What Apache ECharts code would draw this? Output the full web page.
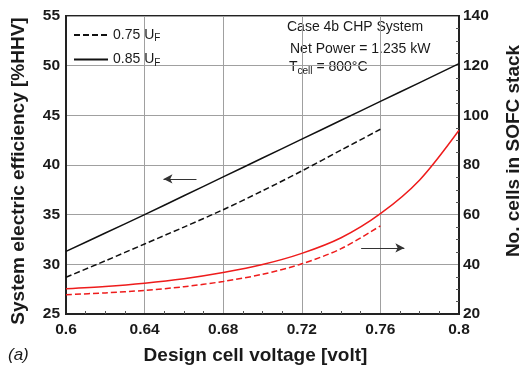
<!DOCTYPE html>
<html>
<head>
<meta charset="utf-8">
<script src="https://cdn.jsdelivr.net/npm/echarts@6/dist/echarts.min.js"></script>
<style>
  html, body { margin: 0; padding: 0; background: #fff; }
  #main { width: 521px; height: 368px; }
</style>
</head>
<body>
<div id="main"></div>
<script>
// design cell voltage [volt]
const voltage = [0.60, 0.62, 0.64, 0.66, 0.68, 0.70, 0.72, 0.74, 0.76, 0.78, 0.80];

// system electric efficiency [%HHV]
const effUF85 = [31.3, 33.15, 35.0, 36.9, 38.8, 40.7, 42.6, 44.5, 46.4, 48.3, 50.2];
const effUF75 = [28.7, 30.35, 32.05, 33.75, 35.5, 37.4, 39.4, 41.5, 43.6];

// number of cells in SOFC stack
const cellsUF85 = [30.2, 31.1, 32.4, 34.2, 36.7, 39.9, 44.4, 50.7, 60.4, 74.0, 94.0];
const cellsUF75 = [27.8, 28.5, 29.5, 31.0, 33.1, 36.0, 40.2, 46.3, 55.5];

const leftArrow = [[0.6664, 38.6], [0.6496, 38.6]];
const rightArrow = [[0.7502, 46.6], [0.7722, 46.6]];

const xTicks = { min: 0.6, max: 0.8, interval: 0.04 };
const effTicks = { min: 25, max: 55, interval: 5 };
const cellTicks = { min: 20, max: 140, interval: 20 };

function pairs(ys) {
  return ys.map((y, i) => [voltage[i], y]);
}

var chartDom = document.getElementById('main');
var myChart = echarts.init(chartDom);
var option;

const FONT = 'Liberation Sans, Arial, sans-serif';
const black = '#111';
const red = '#ee1c1c';
const gridColor = '#a0a0a0';

const tickLabel = { color: '#1a1a1a', fontSize: 15.5, fontWeight: 'bold', fontFamily: FONT };
const titleStyle = { color: '#1a1a1a', fontSize: 19, fontWeight: 'bold', fontFamily: FONT };

function arrowLine(coords) {
  return {
    silent: true,
    symbol: ['none', 'arrow'],
    symbolSize: [7, 9],
    label: { show: false },
    lineStyle: { color: '#333', width: 1, type: 'solid' },
    data: [[{ coord: coords[0] }, { coord: coords[1] }]]
  };
}

option = {
  animation: false,
  grid: {
    left: 66, right: 62, top: 16, bottom: 54,
    outerBoundsMode: 'none',
    show: true, borderColor: '#222', borderWidth: 2
  },
  legend: {
    data: ['0.75', '0.85'],
    orient: 'vertical',
    left: 68, top: 23,
    itemWidth: 34, itemHeight: 12, itemGap: 9,
    itemStyle: { color: 'transparent', borderWidth: 0 },
    textStyle: {
      color: '#1a1a1a', fontFamily: FONT, fontSize: 14,
      rich: {
        t: { fontSize: 14, fontFamily: FONT, color: '#1a1a1a' },
        s: { fontSize: 10, fontFamily: FONT, color: '#1a1a1a', padding: [7, 0, 0, 0] }
      }
    },
    formatter: n => '{t|' + n + ' U}{s|F}'
  },
  xAxis: {
    type: 'value',
    min: xTicks.min, max: xTicks.max, interval: xTicks.interval,
    name: 'Design cell voltage [volt]',
    nameLocation: 'middle', nameGap: 32,
    nameTextStyle: Object.assign({ padding: [0, 14, 0, 0] }, titleStyle),
    axisLine: { lineStyle: { color: '#222', width: 2 } },
    axisTick: { show: false },
    minorTick: { show: true, splitNumber: 4, length: -3, lineStyle: { color: '#555' } },
    axisLabel: Object.assign({ margin: 8, formatter: v => String(+v.toFixed(2)) }, tickLabel),
    splitLine: { show: true, lineStyle: { color: gridColor, width: 1 } }
  },
  yAxis: [
    {
      type: 'value',
      min: effTicks.min, max: effTicks.max, interval: effTicks.interval,
      name: 'System electric efficiency [%HHV]',
      nameLocation: 'middle', nameGap: 38,
      nameTextStyle: Object.assign({ padding: [0, 12, 0, 0] }, titleStyle),
      axisLine: { show: true, lineStyle: { color: '#222', width: 2 } },
      axisTick: { show: false },
      axisLabel: Object.assign({ margin: 6 }, tickLabel),
      splitLine: { show: true, lineStyle: { color: gridColor, width: 1 } }
    },
    {
      type: 'value',
      position: 'right',
      min: cellTicks.min, max: cellTicks.max, interval: cellTicks.interval,
      axisLine: { show: true, lineStyle: { color: '#222', width: 2 } },
      axisTick: { show: false },
      minorTick: { show: true, splitNumber: 4, length: -3, lineStyle: { color: '#555' } },
      axisLabel: Object.assign({ margin: 4 }, tickLabel),
      splitLine: { show: false }
    }
  ],
  graphic: [
    {
      type: 'text', x: 514, y: 151, rotation: Math.PI / 2,
      style: { text: 'No. cells in SOFC stack', fill: '#1a1a1a', font: 'bold 19px ' + FONT,
        textAlign: 'center', textVerticalAlign: 'middle' }
    },
    {
      type: 'text', x: 8, y: 355,
      style: { text: '(a)', fill: '#1a1a1a', font: 'italic 17px ' + FONT, textVerticalAlign: 'middle' }
    },
    {
      type: 'text', x: 287, y: 27,
      style: { text: 'Case 4b CHP System', fill: '#1a1a1a', font: '14px ' + FONT, textVerticalAlign: 'middle' }
    },
    {
      type: 'text', x: 290, y: 49,
      style: { text: 'Net Power = 1.235 kW', fill: '#1a1a1a', font: '14px ' + FONT, textVerticalAlign: 'middle' }
    },
    {
      type: 'text', x: 289, y: 58,
      style: {
        text: '{a|T}{b|cell}{a| = 800°C}',
        rich: {
          a: { fontSize: 14, fontFamily: FONT, fill: '#1a1a1a', color: '#1a1a1a' },
          b: { fontSize: 10, fontFamily: FONT, fill: '#1a1a1a', color: '#1a1a1a', padding: [8, 0, 0, 0] }
        }
      }
    }
  ],
  series: [
    {
      name: '0.75',
      type: 'line',
      data: pairs(effUF75),
      symbol: 'none',
      smooth: 0.3,
      color: black,
      lineStyle: { color: black, width: 1.5, type: [6, 3] },
      markLine: arrowLine(leftArrow)
    },
    {
      name: '0.85',
      type: 'line',
      data: pairs(effUF85),
      symbol: 'none',
      smooth: 0.3,
      color: black,
      lineStyle: { color: black, width: 1.5, type: 'solid' }
    },
    {
      name: 'cells 0.75',
      type: 'line',
      yAxisIndex: 1,
      data: pairs(cellsUF75),
      symbol: 'none',
      smooth: 0.3,
      color: red,
      lineStyle: { color: red, width: 1.5, type: [6, 3] },
      markLine: arrowLine(rightArrow)
    },
    {
      name: 'cells 0.85',
      type: 'line',
      yAxisIndex: 1,
      data: pairs(cellsUF85),
      symbol: 'none',
      smooth: 0.3,
      color: red,
      lineStyle: { color: red, width: 1.5, type: 'solid' }
    }
  ]
};

option && myChart.setOption(option);
</script>
</body>
</html>
